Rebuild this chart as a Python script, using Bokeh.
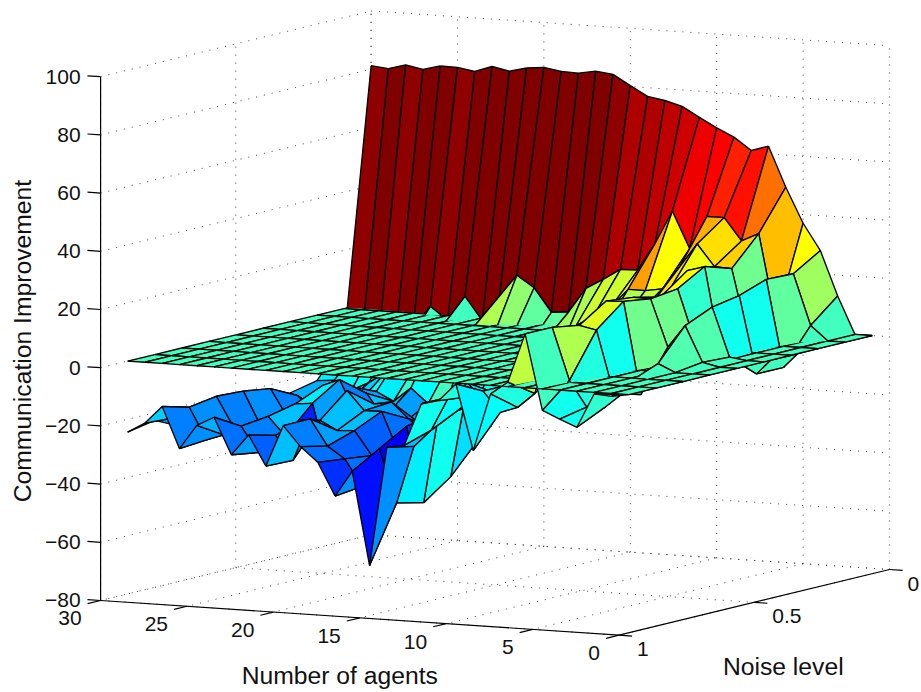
from bokeh.plotting import figure
from bokeh.models import ColumnDataSource, Range1d
from bokeh.embed import file_html
from bokeh.resources import INLINE
from bokeh.core.properties import value
import math

agents = list(range(1, 31))
noise = [0.0, 0.1, 0.2, 0.3, 0.4, 0.5, 0.6, 0.7, 0.8, 0.9]
z_ticks = [100, 80, 60, 40, 20, 0, -20, -40, -60, -80]
z_labels = ["100", "80", "60", "40", "20", "0", "\u221220", "\u221240", "\u221260", "\u221280"]
agent_ticks = [30, 25, 20, 15, 10, 5, 0]
noise_ticks = [0, 0.5, 1]
noise_labels = ["0", "0.5", "1"]

# improvement per number of agents, one value per noise level
z01 = [0, 0, 0, 0, 0, 0, 0, 0, 0, 0]
z02 = [0, 0, -1, -1, 0, 0, 0, 0, 0, -1]
z03 = [12.8, 4.9, -7.2, -7.2, 0.8, 1.3, 0, 0, -3, -0.5]
z04 = [28, 22.3, 22.6, 19.3, 17.6, 13.5, 2.7, -1, -8, -12.4]
z05 = [37, 5.9, 1, -3.2, 5.4, 5.7, -8.3, -5.7, -8.1, -10]
z06 = [49, 35.3, 25.5, 28.5, 23.1, 21.9, 23.3, 15.7, 0.6, -7.4]
z07 = [62.7, 32.4, 25.8, 26.7, 19.8, 22, 23, 16.9, 18.5, 18.5]
z08 = [60.8, 40, 33.2, 20, 15, 12, 8, 3, -4.6, 1.5]
z09 = [65, 40, 25, 15, 10, 5, 3, -2, -9.8, -2.9]
z10 = [67.8, 28.5, 17, 10, 5, 2, -2, -5, -11.9, -22.8]
z11 = [71, 41, 16, 6, 3, -2, -5, -5, -5, -0.3]
z12 = [74.4, 29.5, 16, 3, -2, -5, -8, -8, -7.5, -6.4]
z13 = [76, 20, 9.4, 2, -5, -10, -10, -10, -8, -7.9]
z14 = [77, 19.8, 6, 0, -8, -14, -15, -15, -19.6, -22.6]
z15 = [80.3, 16, 2.4, -3, -10, -14, -8.4, -12, -25.6, -23.6]
z16 = [83.8, 12.5, -7, -18, -20, -30.7, -40.9, -47.6, -45.4, -64.7]
z17 = [84.5, 4, -5, -18, -22, -25, -20, -21.8, -27.2, -32.7]
z18 = [83.4, 3.5, -8, -20, -30, -30, -25, -30, -40.5, -41.6]
z19 = [83.6, 11.5, -6.8, -20, -25, -30, -34, -32.6, -31.5, -30.4]
z20 = [84.6, 15.4, -6.5, -20, -30, -24.9, -20.1, -24.4, -27.5, -25.4]
z21 = [84, 7.9, -1, -25, -28.7, -19.5, -20.2, -24.8, -18.5, -18.6]
z22 = [82.5, -1, -10, -25, -30, -20.6, -13.7, -21.7, -33.2, -32.9]
z23 = [83.7, 7, -3, -20, -28, -25, -42, -22, -25, -22.6]
z24 = [81.6, -1.7, -12, -25, -20, -13, -18.9, -28, -31.3, -29.8]
z25 = [82.6, 2.7, -10, -22, -18, -15.5, -19.5, -21.5, -22.6, -17.3]
z26 = [82.7, -5, -18, -26, -26, -24, -26, -26, -26, -20.5]
z27 = [81.1, -8, -22, -28, -28, -27.3, -27.8, -26, -28.1, -28.9]
z28 = [82.3, -10, -25, -30.8, -22.3, -17.7, -16.3, -15.8, -17.3, -14.8]
z29 = [80.6, -12, -22, -27, -26, -26, -25, -24, -21.5, -20.9]
z30 = [81.2, -11, -22.5, -24.5, -27.3, -29.4, -33, -27, -22.6, -24.4]
Z = [z01, z02, z03, z04, z05, z06, z07, z08, z09, z10, z11, z12, z13, z14, z15,
     z16, z17, z18, z19, z20, z21, z22, z23, z24, z25, z26, z27, z28, z29, z30]


# orthographic view of the box, in page pixels
def proj(a, n, z):
    return (889 - 17.28 * a - 270.5 * n,
            336.2 - 1.157 * a + 65.7 * n - 2.91 * z)


ZMIN = min(min(r) for r in Z)
ZMAX = max(max(r) for r in Z)


def jet(z):
    i = min(63, int((z - ZMIN) / (ZMAX - ZMIN) * 64))
    f = (i + 1) / 64
    c = lambda v: int(round(255 * max(0.0, min(1.0, v))))
    return "#%02x%02x%02x" % (c(1.5 - abs(4 * f - 3)), c(1.5 - abs(4 * f - 2)), c(1.5 - abs(4 * f - 1)))


W, H = 921, 692
p = figure(width=W, height=H, output_backend="svg", toolbar_location=None,
           x_range=Range1d(0, W), y_range=Range1d(H, 0),
           min_border=0, outline_line_color=None)
p.axis.visible = False
p.grid.visible = False
p.background_fill_color = "white"

# dotted box grid
gx, gy = [], []


def seg(A, B, xs, ys):
    P, Q = proj(*A), proj(*B)
    xs.append([P[0], Q[0]])
    ys.append([P[1], Q[1]])


for z in z_ticks:
    seg((30, 1, z), (30, 0, z), gx, gy)
    seg((30, 0, z), (0, 0, z), gx, gy)
for a in agent_ticks:
    seg((a, 0, -80), (a, 0, 100), gx, gy)
    seg((a, 0, -80), (a, 1, -80), gx, gy)
for n in noise_ticks:
    seg((30, n, -80), (30, n, 100), gx, gy)
    seg((30, n, -80), (0, n, -80), gx, gy)
p.multi_line(gx, gy, line_color="#444444", line_width=1, line_dash="1 7")

# axes and ticks
ax, ay = [], []
seg((30, 1, -80), (30, 1, 100), ax, ay)
seg((30, 1, -80), (0, 1, -80), ax, ay)
seg((0, 1, -80), (0, 0, -80), ax, ay)
T = 0.76
for z in z_ticks:
    seg((30, 1, z), (30 + T, 1, z), ax, ay)
for a in agent_ticks:
    seg((a, 1, -80), (a, 1.048, -80), ax, ay)
for n in noise_ticks:
    seg((0, n, -80), (-T, n, -80), ax, ay)
p.multi_line(ax, ay, line_color="black", line_width=1.2)

# surface facets, split at the flat reference plane
def clip(poly, sign):
    out, edges = [], []
    m = len(poly)
    for i in range(m):
        A, B = poly[i], poly[(i + 1) % m]
        sa, sb = sign * A[2], sign * B[2]
        if sa >= 0:
            out.append(A)
        if sa >= 0 and sb >= 0:
            edges.append((A, B))
        elif sa * sb < 0:
            t = A[2] / (A[2] - B[2])
            C = (A[0] + t * (B[0] - A[0]), A[1] + t * (B[1] - A[1]), 0.0)
            out.append(C)
            edges.append((A, C) if sa > 0 else (C, B))
    return out, edges


below = {"xs": [], "ys": [], "fc": [], "fa": [], "la": []}
above = {"xs": [], "ys": [], "fc": [], "fa": [], "la": []}
plane = {"xs": [], "ys": [], "fc": [], "fa": [], "la": []}


def emit(store, poly, edges, color):
    pts = [proj(*v) for v in poly]
    store["xs"].append([q[0] for q in pts])
    store["ys"].append([q[1] for q in pts])
    store["fc"].append(color)
    store["fa"].append(1.0)
    store["la"].append(0.0)
    for A, B in edges:
        P, Q = proj(*A), proj(*B)
        store["xs"].append([P[0], Q[0]])
        store["ys"].append([P[1], Q[1]])
        store["fc"].append(color)
        store["fa"].append(0.0)
        store["la"].append(1.0)


for i in range(len(agents) - 2, -1, -1):
    for j in range(len(noise) - 1):
        a0, a1 = agents[i], agents[i + 1]
        n0, n1 = noise[j], noise[j + 1]
        quad = [(a0, n0, Z[i][j]), (a1, n0, Z[i + 1][j]), (a1, n1, Z[i + 1][j + 1]), (a0, n1, Z[i][j + 1])]
        col = jet(Z[i][j])
        for store, s in ((below, -1), (above, 1)):
            if s == 1 and all(v[2] <= 0 for v in quad):
                continue
            if s == -1 and all(v[2] > 0 for v in quad):
                continue
            poly, edges = clip(quad, s)
            if len(poly) >= 3:
                emit(store, poly, edges, col)
        flat = [(a0, n0, 0), (a1, n0, 0), (a1, n1, 0), (a0, n1, 0)]
        emit(plane, flat, [(flat[k], flat[(k + 1) % 4]) for k in range(4)], jet(0))

for store in (below, plane, above):
    src = ColumnDataSource(store)
    p.patches("xs", "ys", source=src, fill_color="fc", fill_alpha="fa",
              line_color="black", line_alpha="la", line_width=1.35)

FONT = value("Liberation Sans")
TICK = "21px"
TITLE = "24.7px"
# tick labels
x, y = zip(*[proj(30, 1, z) for z in z_ticks])
p.text([v - 20 for v in x], list(y), text=z_labels, text_font=FONT, text_font_size=TICK,
       text_align="right", text_baseline="middle", text_color="#111111")
x, y = zip(*[proj(a, 1, -80) for a in agent_ticks])
p.text([v - 19 for v in x], [v + 18 for v in y], text=[str(a) for a in agent_ticks],
       text_font=FONT, text_font_size=TICK, text_align="right", text_baseline="middle", text_color="#111111")
x, y = zip(*[proj(0, n, -80) for n in noise_ticks])
p.text([v + 18 for v in x], [v + 14 for v in y], text=noise_labels, text_font=FONT, text_font_size=TICK,
       text_align="left", text_baseline="middle", text_color="#111111")

# axis titles
x0, y0 = proj(15, 1, -80)
p.text([x0 - 20], [y0 + 58], text=["Number of agents"], text_font=FONT, text_font_size=TITLE,
       text_align="center", text_baseline="middle", text_color="#111111")
x0, y0 = proj(0, 0.5, -80)
p.text([x0 + 29], [y0 + 64], text=["Noise level"], text_font=FONT, text_font_size=TITLE,
       text_align="center", text_baseline="middle", text_color="#111111")
x0, y0 = proj(30, 1, 10)
p.text([x0 - 78], [y0 + 2.5], text=["Communication Improvement"], text_font=FONT, text_font_size=TITLE,
       text_align="center", text_baseline="middle", angle=math.pi / 2, text_color="#111111")

open("out.html", "w").write(file_html(p, INLINE))
